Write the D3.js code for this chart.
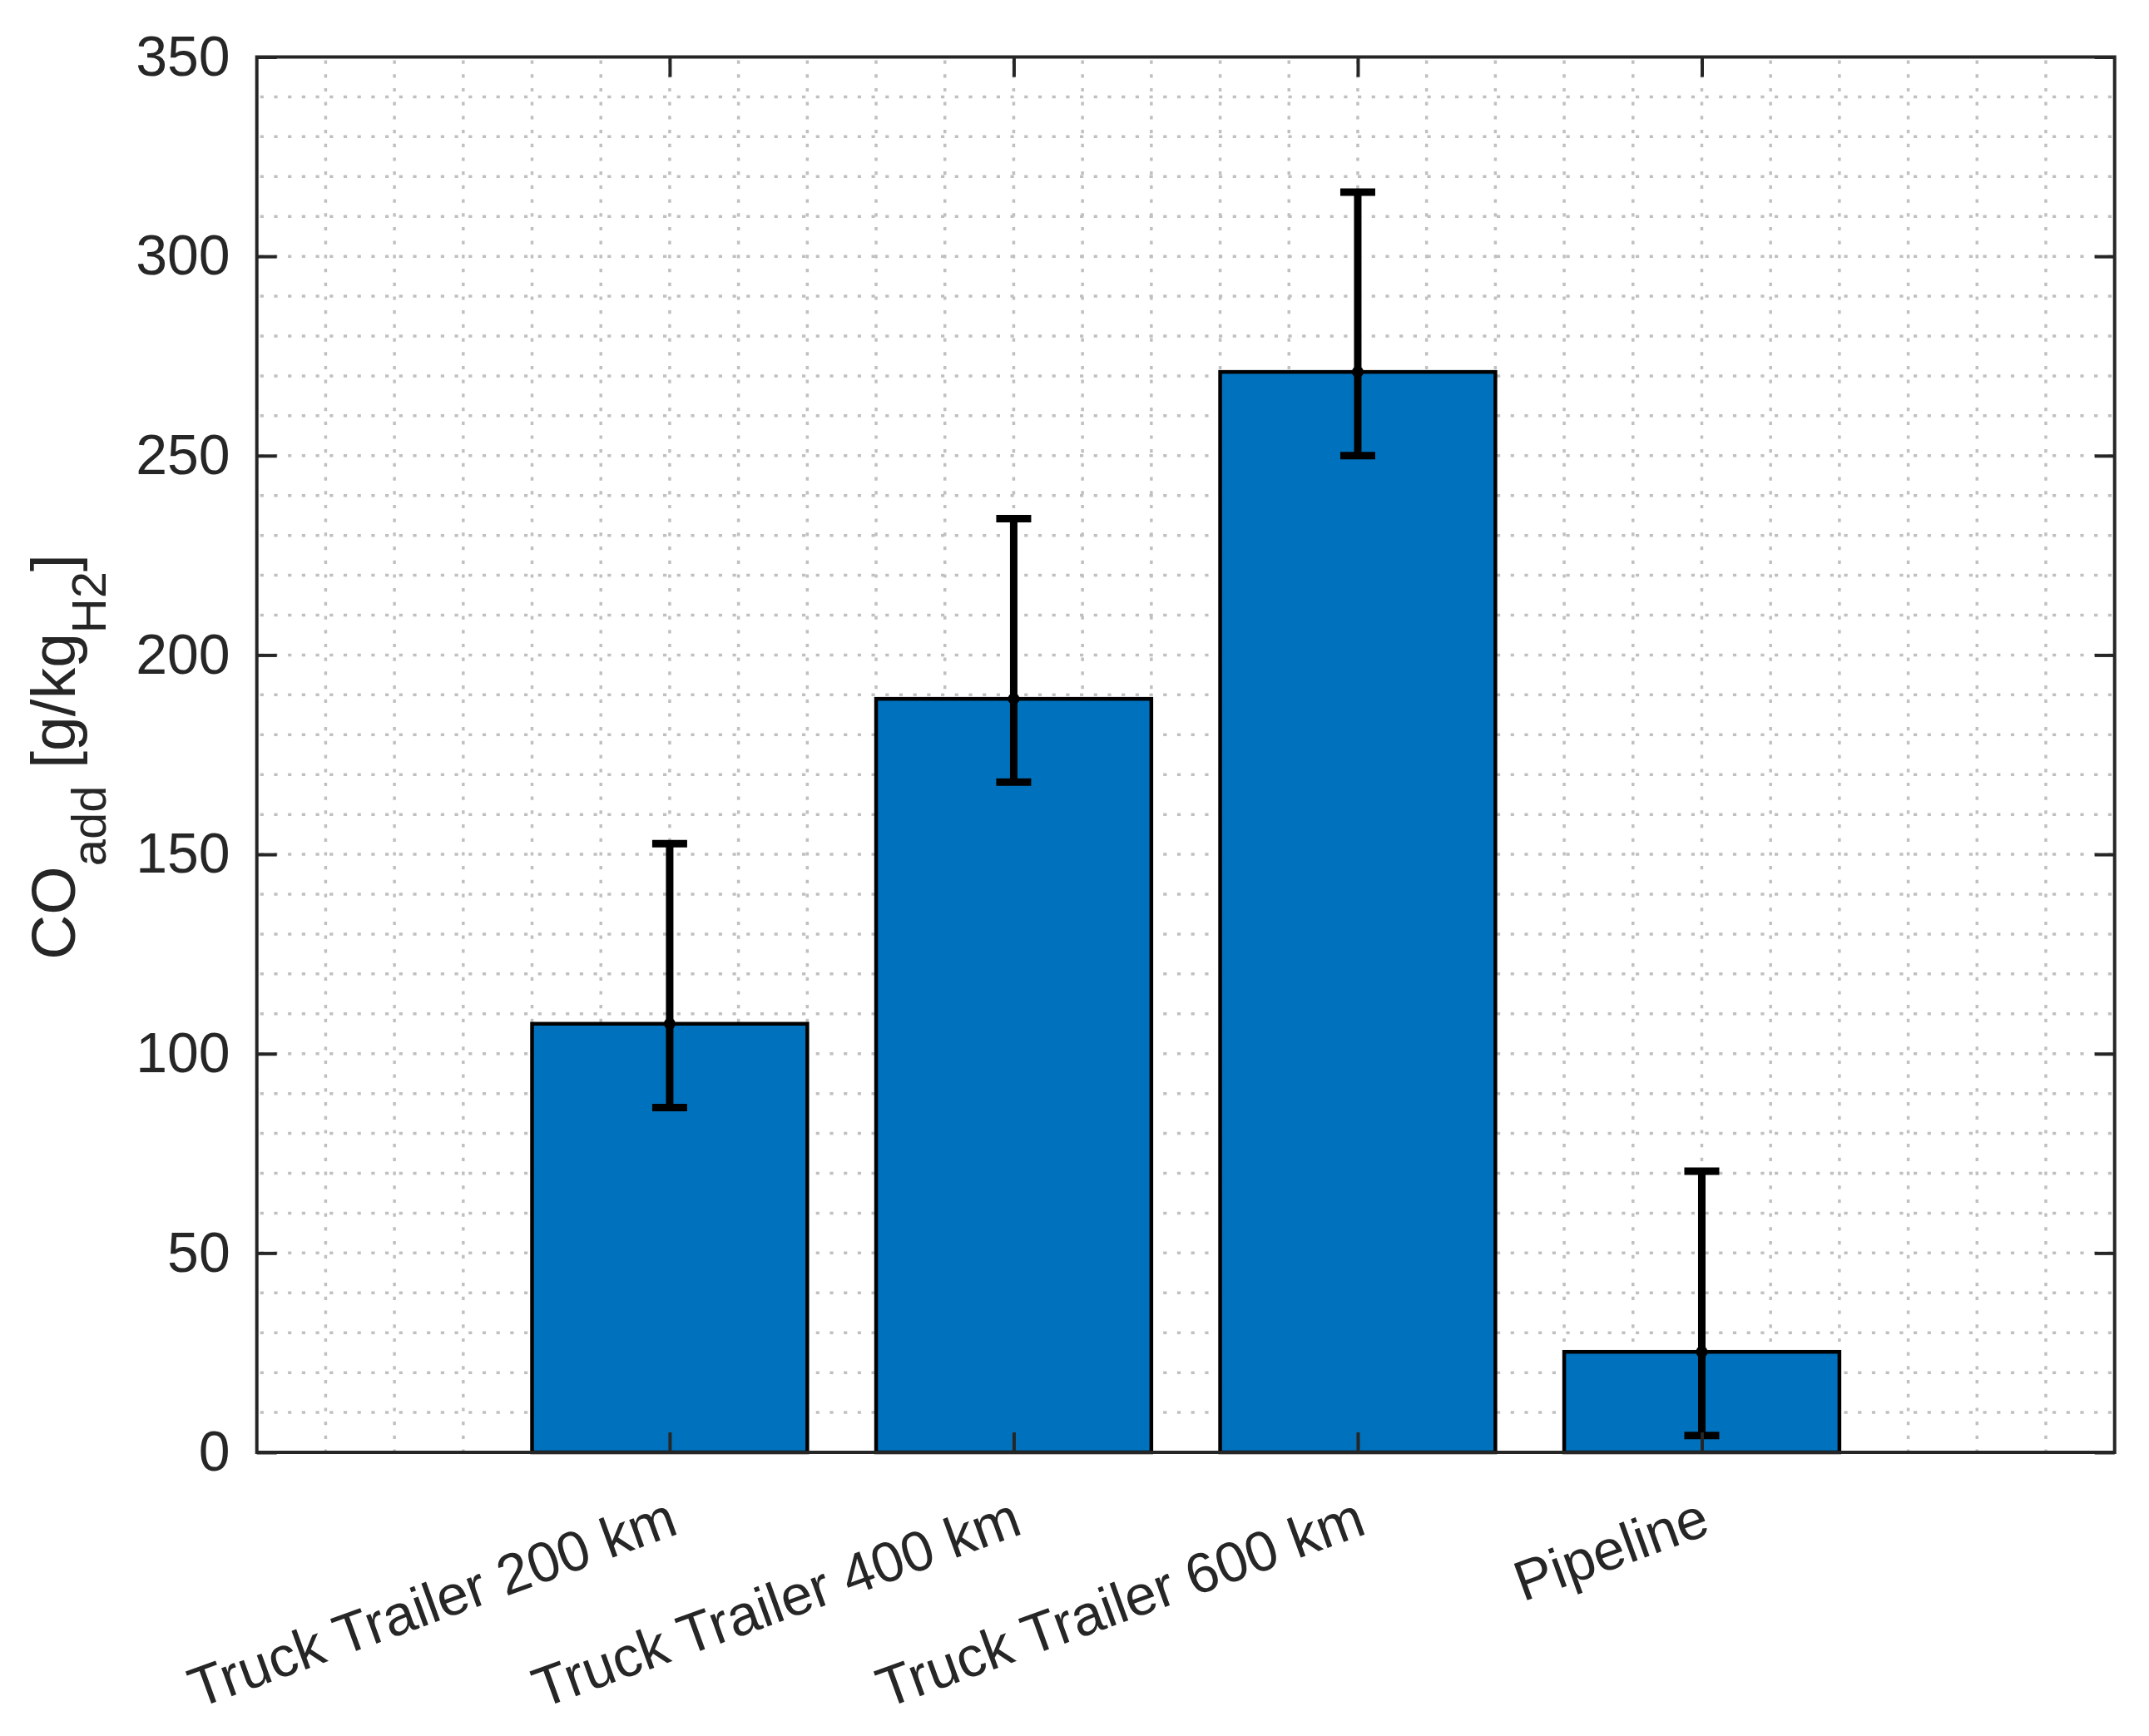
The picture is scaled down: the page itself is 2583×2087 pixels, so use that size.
<!DOCTYPE html>
<html>
<head>
<meta charset="utf-8">
<script src="https://cdn.jsdelivr.net/npm/d3@7"></script>
<style>
  html, body { margin: 0; padding: 0; background: #fff; }
  svg { display: block; }
</style>
</head>
<body>
<script>
// ---- data ----
const categories = ["Truck Trailer 200 km", "Truck Trailer 400 km", "Truck Trailer 600 km", "Pipeline"];
const values  = [107.5, 189.0, 271.0, 25.2];
const errLow  = [86.5, 168.1, 250.0, 4.2];
const errHigh = [152.7, 234.2, 316.1, 70.5];
const yTicks  = [0, 50, 100, 150, 200, 250, 300, 350];
const yLabelMain = ["CO", " [g/kg", "]"];
const yLabelSubs = ["add", "H2"];

// ---- layout ----
const W = 2583, H = 2087;
const L = 308.7, R = 2541.7, T = 68.5, B = 1746;
const font = "'Liberation Sans', Arial, Helvetica, sans-serif";
const axisColor = "#262626";

const svg = d3.select("body").append("svg").attr("width", W).attr("height", H)
  .style("font-family", font);
svg.append("rect").attr("width", W).attr("height", H).attr("fill", "#fff");

const x = d3.scaleLinear().domain([-0.2, 5.2]).range([L, R]);
const y = d3.scaleLinear().domain([0, 350]).range([B, T]);
const pos = categories.map((c, i) => i + 1);

// ---- grid (dotted) ----
const grid = svg.append("g").attr("stroke", "#c0c0c0").attr("stroke-width", 3.5)
  .attr("stroke-dasharray", "4.2 12.5");
const yGrid = y.ticks(35).filter(v => v > 0 && v < 350);
grid.selectAll("line.h").data(yGrid).join("line").attr("class", "h")
  .attr("x1", L + 4).attr("x2", R).attr("y1", d => y(d)).attr("y2", d => y(d));
const xGrid = d3.range(1, 27).map(k => -0.2 + k * 0.2).filter(v => v < 5.19);
grid.selectAll("line.v").data(xGrid).join("line").attr("class", "v")
  .attr("y1", T + 4).attr("y2", B).attr("x1", d => x(d)).attr("x2", d => x(d));

// ---- bars ----
const bw = 0.8;
svg.append("g").selectAll("rect").data(values).join("rect")
  .attr("x", (d, i) => x(pos[i] - bw / 2))
  .attr("width", x(bw) - x(0))
  .attr("y", d => y(d))
  .attr("height", d => y(0) - y(d))
  .attr("fill", "#0072BD")
  .attr("stroke", "#000")
  .attr("stroke-width", 4.5);

// ---- error bars ----
const eb = svg.append("g").attr("stroke", "#000").attr("stroke-width", 9);
const capHalf = 21;
values.forEach((v, i) => {
  const cx = x(pos[i]);
  eb.append("line").attr("x1", cx).attr("x2", cx).attr("y1", y(errLow[i])).attr("y2", y(errHigh[i]));
  eb.append("line").attr("x1", cx - capHalf).attr("x2", cx + capHalf).attr("y1", y(errLow[i])).attr("y2", y(errLow[i]));
  eb.append("line").attr("x1", cx - capHalf).attr("x2", cx + capHalf).attr("y1", y(errHigh[i])).attr("y2", y(errHigh[i]));
  eb.append("circle").attr("cx", cx).attr("cy", y(v)).attr("r", 7).attr("fill", "#000").attr("stroke", "none");
});

// ---- axes ----
const tickLen = 24;
const yAxisL = svg.append("g").attr("transform", `translate(${L},0)`)
  .call(d3.axisLeft(y).tickValues(yTicks).tickSize(-tickLen).tickPadding(32).tickFormat(d3.format("d")));
const yAxisR = svg.append("g").attr("transform", `translate(${R},0)`)
  .call(d3.axisRight(y).tickValues(yTicks).tickSize(-tickLen).tickFormat(""));
const xAxisB = svg.append("g").attr("transform", `translate(0,${B})`)
  .call(d3.axisBottom(x).tickValues(pos).tickSize(-tickLen).tickFormat((d, i) => categories[i]));
const xAxisT = svg.append("g").attr("transform", `translate(0,${T})`)
  .call(d3.axisTop(x).tickValues(pos).tickSize(-tickLen).tickFormat(""));

[yAxisL, yAxisR, xAxisB, xAxisT].forEach(g => {
  g.select(".domain").remove();
  g.selectAll(".tick line").attr("stroke", axisColor).attr("stroke-width", 4);
  g.selectAll("text").attr("fill", axisColor).style("font-size", "68px").style("font-family", font);
});

xAxisB.selectAll(".tick text")
  .attr("y", null).attr("x", null).attr("dy", null)
  .attr("text-anchor", "end")
  .attr("transform", "translate(12,97) rotate(-20)");

// ---- box ----
svg.append("rect").attr("x", L).attr("y", T).attr("width", R - L).attr("height", B - T)
  .attr("fill", "none").attr("stroke", axisColor).attr("stroke-width", 4);

// ---- y label ----
const yl = svg.append("text").attr("transform", "translate(90,910) rotate(-90)")
  .attr("text-anchor", "middle").attr("fill", axisColor).style("font-size", "75px");
const shift = 37;
yl.append("tspan").text(yLabelMain[0]);
yl.append("tspan").attr("dy", shift).style("font-size", "58px").text(yLabelSubs[0]);
yl.append("tspan").attr("dy", -shift).text(yLabelMain[1]);
yl.append("tspan").attr("dy", shift).style("font-size", "58px").text(yLabelSubs[1]);
yl.append("tspan").attr("dy", -shift).text(yLabelMain[2]);
</script>
</body>
</html>
